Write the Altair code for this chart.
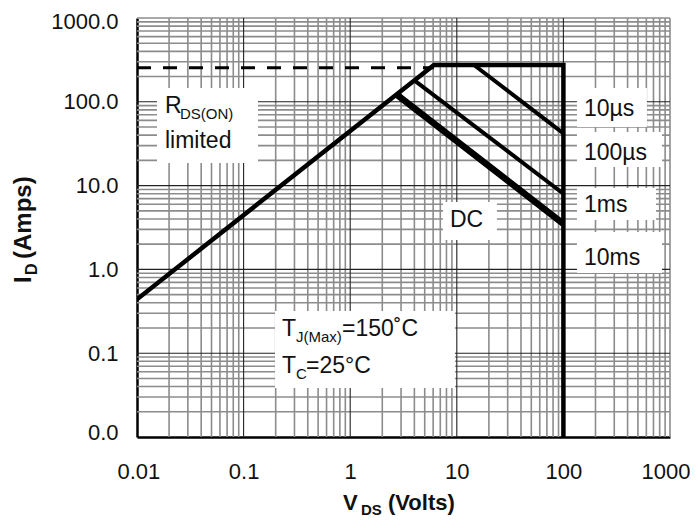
import altair as alt
import pandas as pd

FONT = "Liberation Sans"

# ---- data ----
# outer envelope: R_DS(on) limit -> current limit -> 100 V limit
env_v = [0.01, 6.1, 100, 100]
env_i = [0.44, 275, 275, 0.01]
us10_v = [14.5, 100]
us10_i = [275, 42]
ms1_v = [4.05, 100]
ms1_i = [178, 8]
dc_v = [2.75, 100]
dc_i = [121, 3.5]
dash_v = [0.01, 6.1]
dash_i = [255, 255]

decades = [0.01, 0.1, 1, 10, 100, 1000]
minor_vals = [m * d for d in decades[:-1] for m in range(2, 10)]
major_vals = [0.1, 1, 10, 100]
edge_vals = [1000]

# label boxes: x1, x2, y1, y2 (data units)
box_x1 = [0.0154, 0.197, 134, 134, 134, 134, 7.43]
box_x2 = [0.1365, 9.6, 608, 841, 739, 841, 23.8]
box_y1 = [146, 0.319, 146, 43.6, 9.36, 2.79, 6.37]
box_y2 = [18.6, 0.0385, 50, 16.7, 3.88, 0.906, 2.24]

# right-side pulse labels
pulse_text = ["10\u00b5s", "100\u00b5s", "1ms", "10ms"]
pulse_x = [156, 156, 156, 156]
pulse_y = [67.7, 20.2, 4.89, 1.128]

xs = alt.Scale(type="log", domain=[0.01, 1000], nice=False)
ys = alt.Scale(type="log", domain=[0.01, 1000], nice=False)


def line_layer(v, i, width, dash=None):
    df = pd.DataFrame({"V": v, "I": i, "o": list(range(len(v)))})
    kw = dict(color="black", strokeWidth=width, clip=True)
    if dash:
        kw["strokeDash"] = dash
    return alt.Chart(df).mark_line(**kw).encode(
        x=alt.X("V:Q", scale=xs),
        y=alt.Y("I:Q", scale=ys),
        order="o:Q",
    )


def vrule(vals, color, width):
    return alt.Chart(pd.DataFrame({"v": vals})).mark_rule(
        color=color, strokeWidth=width
    ).encode(x=alt.X("v:Q", scale=xs))


def hrule(vals, color, width):
    return alt.Chart(pd.DataFrame({"v": vals})).mark_rule(
        color=color, strokeWidth=width
    ).encode(y=alt.Y("v:Q", scale=ys))


def dtext(t, x, y, size, dx=0, dy=0):
    return alt.Chart(pd.DataFrame({"t": [t], "x": [x], "y": [y]})).mark_text(
        font=FONT, fontSize=size, align="left", baseline="alphabetic",
        dx=dx, dy=dy, color="#111111"
    ).encode(x=alt.X("x:Q", scale=xs), y=alt.Y("y:Q", scale=ys), text="t:N")


def ptext(t, x, y, size, angle=0, bold=True):
    return alt.Chart(pd.DataFrame({"t": [t]})).mark_text(
        font=FONT, fontSize=size, fontWeight="bold" if bold else "normal",
        align="left", baseline="alphabetic", angle=angle, color="#111111"
    ).encode(x=alt.value(x), y=alt.value(y), text="t:N")


grid = [
    vrule(minor_vals + edge_vals, "#8c8c8c", 1.6),
    hrule(minor_vals + edge_vals, "#8c8c8c", 1.6),
    vrule(major_vals, "#222222", 1.1),
    hrule(major_vals, "#222222", 1.1),
]

boxes = alt.Chart(pd.DataFrame({
    "x1": box_x1, "x2": box_x2, "y1": box_y1, "y2": box_y2
})).mark_rect(color="white").encode(
    x=alt.X("x1:Q", scale=xs), x2="x2:Q",
    y=alt.Y("y1:Q", scale=ys), y2="y2:Q",
)

# axes-only layer
axes = alt.Chart(pd.DataFrame({"V": [0.01], "I": [0.01]})).mark_point(opacity=0).encode(
    x=alt.X("V:Q", scale=xs, title=None,
            axis=alt.Axis(values=decades, format="~g", grid=False, ticks=False,
                          tickSize=0, labelPadding=24, domainColor="black",
                          domainWidth=2.5, labelFont=FONT, labelFontSize=22,
                          labelColor="#111111", labelFlush=True,
                          labelFlushOffset=20)),
    y=alt.Y("I:Q", scale=ys, title=None,
            axis=alt.Axis(values=decades, labelExpr="format(datum.value, '.1f')",
                          grid=False, ticks=False, tickSize=0, labelPadding=19,
                          domainColor="black", domainWidth=2.5, labelFont=FONT,
                          labelFontSize=22, labelColor="#111111", labelFlush=True,
                          labelFlushOffset=7)),
)

lines = [
    line_layer(dash_v, dash_i, 3, dash=[14, 12]),
    line_layer(env_v, env_i, 4.5),
    line_layer(us10_v, us10_i, 4),
    line_layer(ms1_v, ms1_i, 4),
    line_layer(dc_v, dc_i, 6.5),
]

texts = [
    dtext("R", 0.0183, 73.5, 23),
    dtext("DS(ON)", 0.0183, 73.5, 15, dx=15, dy=6),
    dtext("limited", 0.0183, 28.1, 23),
    dtext("T", 0.229, 0.160, 23),
    dtext("J(Max)", 0.229, 0.160, 15, dx=14, dy=6),
    dtext("=150\u02daC", 0.229, 0.160, 23, dx=60),
    dtext("T", 0.229, 0.058, 23),
    dtext("C", 0.229, 0.058, 15, dx=14, dy=6),
    dtext("=25\u00b0C", 0.229, 0.058, 23, dx=24),
    dtext("DC", 8.63, 3.23, 23),
]
for t, x, y in zip(pulse_text, pulse_x, pulse_y):
    texts.append(dtext(t, x, y, 23))

titles = [
    ptext("V", 206, 492, 22),
    ptext("DS", 224, 497, 15),
    ptext("(Volts)", 251, 492, 22),
    ptext("I", -106, 265, 24, angle=270),
    ptext("D", -100, 257, 16, angle=270),
    ptext("(Amps)", -106, 241, 24, angle=270),
]

chart = alt.layer(axes, *grid, boxes, *lines, *texts, *titles).properties(
    width=533, height=419,
    padding={"left": 129, "top": 10, "right": 20, "bottom": 81},
    autosize=alt.AutoSizeParams(type="none"),
).configure_view(stroke=None)

chart.save("out.html", embed_options={"renderer": "svg", "actions": False})
